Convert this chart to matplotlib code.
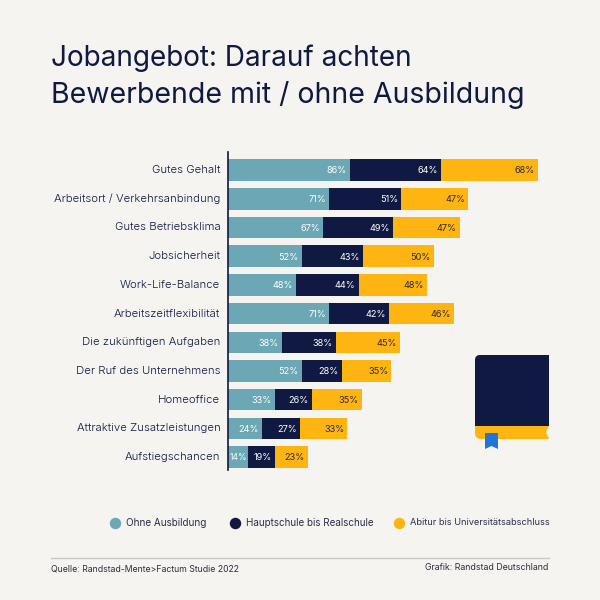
import matplotlib.pyplot as plt
from matplotlib.patches import FancyBboxPatch, Polygon, Rectangle

plt.rcParams["font.family"] = ["Inter", "DejaVu Sans"]

BG = "#f6f4f0"
TEAL = "#6ba7b5"
NAVY = "#0f1941"
YELLOW = "#ffb511"
BLUE = "#2175d9"

categories = [
    "Gutes Gehalt",
    "Arbeitsort / Verkehrsanbindung",
    "Gutes Betriebsklima",
    "Jobsicherheit",
    "Work-Life-Balance",
    "Arbeitszeitflexibilität",
    "Die zukünftigen Aufgaben",
    "Der Ruf des Unternehmens",
    "Homeoffice",
    "Attraktive Zusatzleistungen",
    "Aufstiegschancen",
]
ohne = [86, 71, 67, 52, 48, 71, 38, 52, 33, 24, 14]
haupt = [64, 51, 49, 43, 44, 42, 38, 28, 26, 27, 19]
abitur = [68, 47, 47, 50, 48, 46, 45, 35, 35, 33, 23]

series = [
    ("Ohne Ausbildung", ohne, TEAL, "white"),
    ("Hauptschule bis Realschule", haupt, NAVY, "white"),
    ("Abitur bis Universitätsabschluss", abitur, YELLOW, "#2a2a35"),
]

fig = plt.figure(figsize=(6, 6), dpi=100, facecolor=BG)

# chart axes, x in percent points
ax = fig.add_axes([228 / 600, 1 - 470 / 600, 341 / 600, 318 / 600])
ax.set_facecolor("none")
ax.set_xlim(0, 240)
ax.set_ylim(10.45, -0.63)

left = [0] * len(categories)
for name, values, color, text_color in series:
    ax.barh(range(len(categories)), values, left=left, height=0.75, color=color, linewidth=0)
    for i, val in enumerate(values):
        # the narrow bars need the label pushed closer to the edge
        narrow = left[i] == 0 and val < 20
        ax.text(left[i] + val - (0.8 if narrow else 2.2), i + 0.03, f"{val}%", ha="right", va="center",
                fontsize=6.2 if narrow else 6.6, color=text_color)
    left = [a + b for a, b in zip(left, values)]

ax.set_yticks(range(len(categories)))
ax.set_yticklabels(categories, fontsize=8.2, color=NAVY, fontweight=300, va="center")
ax.tick_params(axis="y", length=0, pad=5.5)
ax.set_xticks([])
for side in ["top", "right", "bottom"]:
    ax.spines[side].set_visible(False)
ax.spines["left"].set_color(NAVY)
ax.spines["left"].set_linewidth(1.2)

# overlay in image pixels for title, legend, footer and the book
over = fig.add_axes([0, 0, 1, 1])
over.set_xlim(0, 600)
over.set_ylim(600, 0)
over.axis("off")

over.text(51, 58, "Jobangebot: Darauf achten", fontsize=20.1, color=NAVY, va="center")
over.text(51, 95, "Bewerbende mit / ohne Ausbildung", fontsize=20.5, color=NAVY, va="center")

legend_x = [115, 234.5, 398.8]
legend_size = [7.15, 7.1, 6.65]
for (name, values, color, text_color), lx, size in zip(series, legend_x, legend_size):
    over.scatter([lx], [522.5], s=68, color=color, linewidths=0)
    over.text(lx + 11, 522.5, name, fontsize=size, color="#2a2e4a", va="center")

over.plot([51, 549], [558, 558], color="#c9c8c1", linewidth=1)
over.text(51, 569, "Quelle: Randstad-Mente>Factum Studie 2022", fontsize=6.25, color="#2a2e3a", va="center")
over.text(548, 567.5, "Grafik: Randstad Deutschland", fontsize=6.35, color="#2a2e3a", va="center", ha="right")

# book icon
over.add_patch(FancyBboxPatch((475, 420), 30, 19, boxstyle="round,pad=0,rounding_size=6", color=YELLOW, linewidth=0))
over.add_patch(Rectangle((490, 426), 59, 13, color=YELLOW, linewidth=0))
over.add_patch(FancyBboxPatch((475, 355), 40, 40, boxstyle="round,pad=0,rounding_size=5", color=NAVY, linewidth=0))
over.add_patch(Rectangle((500, 355), 49, 71, color=NAVY, linewidth=0))
over.add_patch(Rectangle((475, 370), 30, 56, color=NAVY, linewidth=0))
over.add_patch(Polygon([(549, 426), (546, 432), (549, 439), (552, 439), (552, 426)], color=BG, linewidth=0))
over.add_patch(Polygon([(485, 433), (498, 433), (498, 449), (491.5, 446), (485, 449)], color=BLUE, linewidth=0))

fig.savefig("out.png", dpi=100, facecolor=BG)
